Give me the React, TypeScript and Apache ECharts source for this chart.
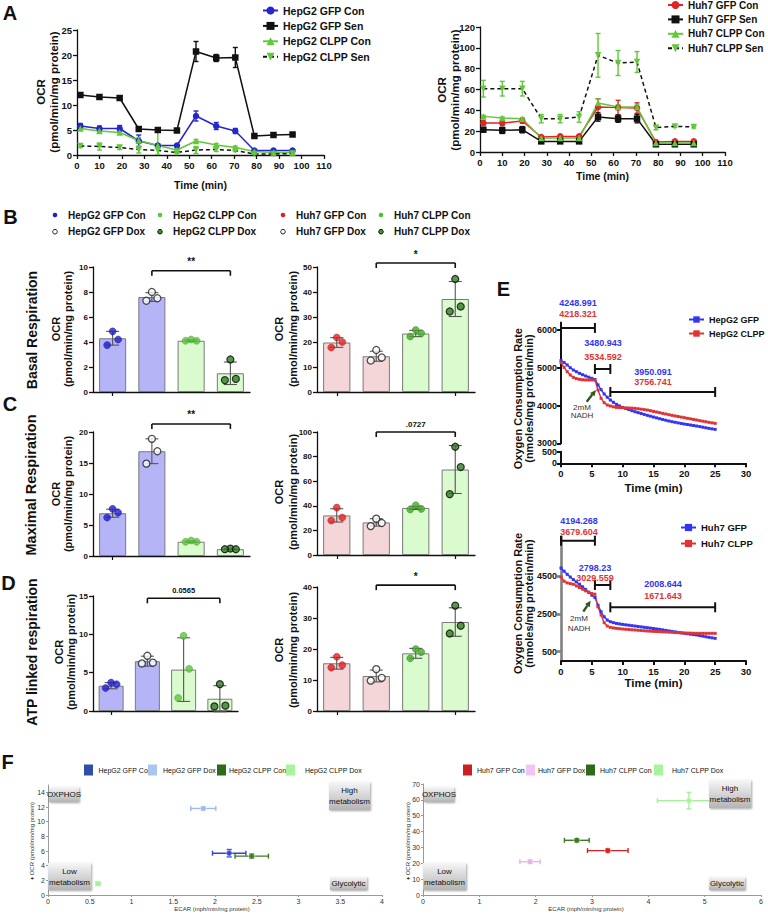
import React, { useEffect, useRef } from 'react';
import * as echarts from 'echarts';

const FONT = '"Liberation Sans", Arial, Helvetica, sans-serif';

// ---------------- Panel A (Seahorse time courses) ----------------
const A_TIME = [1.5, 10, 19, 27.5, 36, 44.5, 53, 62, 70.5, 79, 87.5, 96];
const A_HEPG2_NAMES = ['HepG2 GFP Con', 'HepG2 GFP Sen', 'HepG2 CLPP Con', 'HepG2 CLPP Sen'];
const A_HEPG2_GFP_CON = [5.8, 5.3, 5.3, 2.8, 1.9, 1.9, 7.8, 5.8, 4.8, 0.9, 0.9, 0.9];
const A_HEPG2_GFP_CON_ERR = [0.5, 0.5, 0.6, 1.2, 0.3, 0.2, 1.0, 0.7, 0.5, 0.2, 0.2, 0.2];
const A_HEPG2_GFP_SEN = [12.0, 11.6, 11.4, 5.2, 5.0, 4.9, 20.7, 19.4, 19.5, 3.8, 4.0, 4.1];
const A_HEPG2_GFP_SEN_ERR = [0.3, 0.3, 0.3, 0.2, 0.2, 0.2, 2.0, 0.7, 2.0, 0.2, 0.2, 0.2];
const A_HEPG2_CLPP_CON = [5.3, 4.8, 4.5, 2.9, 1.9, 1.0, 2.8, 2.0, 1.5, 0.7, 0.5, 0.5];
const A_HEPG2_CLPP_CON_ERR = [0.3, 0.3, 0.3, 0.6, 2.9, 0.3, 0.3, 0.3, 0.3, 0.2, 0.2, 0.2];
const A_HEPG2_CLPP_SEN = [1.8, 1.7, 1.5, 1.1, 0.9, 0.5, 1.0, 1.1, 0.9, 0.2, 0.2, 0.3];
const A_HEPG2_CLPP_SEN_ERR = [0.3, 0.7, 0.4, 0.7, 0.8, 0.2, 0.7, 0.4, 0.2, 0.2, 0.2, 0.2];

const A_HUH7_NAMES = ['Huh7 GFP Con', 'Huh7 GFP Sen', 'Huh7 CLPP Con', 'Huh7 CLPP Sen'];
const A_HUH7_GFP_CON = [27.8, 27.8, 29.8, 14.4, 15.0, 15.0, 43.2, 42.6, 42.2, 9.6, 10.2, 10.2];
const A_HUH7_GFP_CON_ERR = [2, 2, 2, 1, 1, 1, 8, 7, 5, 1, 1, 1];
const A_HUH7_GFP_SEN = [21.4, 20.8, 21.4, 10.2, 10.2, 10.2, 33.6, 32.0, 32.0, 7.4, 7.4, 7.4];
const A_HUH7_GFP_SEN_ERR = [2, 3, 3, 1.5, 1.5, 1.5, 4, 3.5, 4, 1, 1, 1];
const A_HUH7_CLPP_CON = [34.2, 32.6, 32.0, 13.4, 13.4, 13.4, 47.0, 43.2, 43.2, 8.6, 8.6, 8.6];
const A_HUH7_CLPP_CON_ERR = [1, 1, 1, 1, 1, 1, 4, 2, 2, 1, 1, 1];
const A_HUH7_CLPP_SEN = [60.8, 60.8, 60.8, 32.0, 32.0, 33.6, 92.8, 85.4, 86.4, 23.4, 24.6, 24.0];
const A_HUH7_CLPP_SEN_ERR = [8, 7, 7, 4, 4, 5, 21, 12, 10, 2, 1, 1];

// ---------------- Panels B-D (bar + dot plots) ----------------
const HEPG2_CATS = ['HepG2 GFP Con', 'HepG2 GFP Dox', 'HepG2 CLPP Con', 'HepG2 CLPP Dox'];
const HUH7_CATS = ['Huh7 GFP Con', 'Huh7 GFP Dox', 'Huh7 CLPP Con', 'Huh7 CLPP Dox'];

const BASAL_HEPG2_MEAN = [4.3, 7.6, 4.1, 1.5];
const BASAL_HEPG2_SD = [0.55, 0.35, 0.06, 0.9];
const BASAL_HEPG2_DOTS = [[4.85, 4.2, 3.75], [8.0, 7.5, 7.3], [4.2, 4.1, 4.1], [2.6, 1.05, 0.95]];
const BASAL_HUH7_MEAN = [19.8, 14.3, 23.4, 37.2];
const BASAL_HUH7_SD = [1.95, 2.0, 1.25, 7.0];
const BASAL_HUH7_DOTS = [[21.8, 20.0, 17.8], [16.8, 13.8, 12.6], [24.8, 23.5, 22.2], [45.2, 34.2, 32.2]];

const MAX_HEPG2_MEAN = [6.9, 16.9, 2.3, 1.1];
const MAX_HEPG2_SD = [0.65, 2.0, 0.12, 0.06];
const MAX_HEPG2_DOTS = [[7.6, 7.0, 6.2], [18.9, 16.9, 14.9], [2.5, 2.3, 2.3], [1.2, 1.1, 1.1]];
const MAX_HUH7_MEAN = [32.2, 26.5, 38.3, 69.5];
const MAX_HUH7_SD = [5.4, 3.0, 1.3, 19.5];
const MAX_HUH7_DOTS = [[38.5, 30.5, 28.0], [29.5, 26.0, 23.5], [40.5, 37.5, 37.0], [88.0, 71.5, 49.5]];

const ATP_HEPG2_MEAN = [3.3, 6.5, 5.4, 1.6];
const ATP_HEPG2_SD = [0.4, 0.65, 4.15, 1.7];
const ATP_HEPG2_DOTS = [[3.7, 3.5, 3.0], [7.2, 6.3, 6.2], [9.8, 5.5, 1.7], [3.5, 0.7, 0.6]];
const ATP_HUH7_MEAN = [15.4, 11.3, 18.6, 28.7];
const ATP_HUH7_SD = [1.9, 1.9, 1.6, 4.6];
const ATP_HUH7_DOTS = [[17.5, 14.8, 14.0], [13.5, 10.7, 9.8], [20.0, 19.0, 17.0], [34.0, 27.5, 25.0]];

const SIG_TEXTS = ['**', '*', '**', '.0727', '0.0565', '*'];
const SIG_LEVELS = [9.7, 51.6, 21.3, 100, 14.7, 40.6];

// ---------------- Panel E (NADH oxygen consumption) ----------------
const E_T = [0, 0.5, 1, 1.5, 2, 2.5, 3, 3.5, 4, 4.5, 5, 5.5, 6, 6.5, 7, 7.5, 8, 8.5, 9, 9.5, 10, 10.5, 11, 11.5, 12, 12.5, 13, 13.5, 14, 14.5, 15, 15.5, 16, 16.5, 17, 17.5, 18, 18.5, 19, 19.5, 20, 20.5, 21, 21.5, 22, 22.5, 23, 23.5, 24, 24.5, 25];
const E_HEPG2_GFP = [5190, 5140, 5075, 5000, 4940, 4895, 4852, 4815, 4781, 4750, 4720, 4690, 4545, 4420, 4305, 4220, 4146, 4085, 4030, 3988, 3950, 3920, 3893, 3864, 3836, 3812, 3788, 3764, 3740, 3718, 3695, 3673, 3651, 3630, 3610, 3590, 3572, 3556, 3540, 3525, 3510, 3497, 3484, 3470, 3457, 3442, 3426, 3410, 3395, 3382, 3369];
const E_HEPG2_CLPP = [5135, 5011, 4896, 4808, 4746, 4712, 4693, 4682, 4675, 4675, 4675, 4672, 4410, 4190, 4075, 4013, 3987, 3965, 3950, 3945, 3942, 3938, 3934, 3930, 3925, 3915, 3903, 3892, 3880, 3863, 3845, 3828, 3810, 3792, 3775, 3757, 3740, 3724, 3709, 3693, 3678, 3662, 3647, 3631, 3616, 3600, 3585, 3570, 3554, 3541, 3528];
const E_HUH7_GFP = [4940, 4770, 4605, 4460, 4324, 4200, 4078, 3940, 3796, 3650, 3497, 3374, 2969, 2617, 2353, 2177, 2089, 2040, 2000, 1972, 1948, 1925, 1903, 1882, 1860, 1838, 1816, 1794, 1772, 1750, 1728, 1706, 1684, 1657, 1630, 1604, 1578, 1552, 1525, 1499, 1473, 1451, 1429, 1407, 1385, 1354, 1323, 1292, 1262, 1235, 1209];
const E_HUH7_CLPP = [4465, 4236, 4148, 4110, 4078, 3990, 3902, 3814, 3726, 3655, 3585, 3550, 2881, 2441, 2036, 1860, 1790, 1760, 1737, 1720, 1702, 1689, 1676, 1662, 1649, 1636, 1622, 1609, 1596, 1587, 1578, 1570, 1561, 1552, 1543, 1535, 1526, 1517, 1508, 1499, 1490, 1486, 1482, 1477, 1473, 1473, 1473, 1473, 1473, 1473, 1473];
const E_SPANS = [[0, 5.5], [5.5, 8], [8, 25]];
const E_TOP_BRACKET_Y = [6053, 4967, 4358];
const E_BOT_BRACKET_Y = [6387, 4037, 2854];
const E_TOP_GFP_LABELS = ['4248.991', '3480.943', '3950.091'];
const E_TOP_CLPP_LABELS = ['4218.321', '3534.592', '3756.741'];
const E_BOT_GFP_LABELS = ['4194.268', '2798.23', '2008.644'];
const E_BOT_CLPP_LABELS = ['3679.604', '3029.559', '1671.643'];

// ---------------- Panel F (energy maps) ----------------
const F_HEPG2_NAMES = ['HepG2 GFP Con', 'HepG2 GFP Dox', 'HepG2 CLPP Con', 'HepG2 CLPP Dox'];
const F_HEPG2_ECAR = [2.17, 1.86, 2.44, 0.6];
const F_HEPG2_OCR = [5.7, 11.8, 5.3, 1.55];
const F_HEPG2_ECAR_ERR = [0.2, 0.15, 0.2, 0.03];
const F_HEPG2_OCR_ERR = [0.5, 0.2, 0.3, 0.15];
const F_HUH7_NAMES = ['Huh7 GFP Con', 'Huh7 GFP Dox', 'Huh7 CLPP Con', 'Huh7 CLPP Dox'];
const F_HUH7_ECAR = [3.28, 1.9, 2.73, 4.72];
const F_HUH7_OCR = [28, 21, 34.5, 59.5];
const F_HUH7_ECAR_ERR = [0.36, 0.18, 0.22, 0.56];
const F_HUH7_OCR_ERR = [1, 1, 1, 5.2];

// ---------------- styling ----------------
const BLUE = '#2626d0';
const GREEN = '#62c83a';
const RED = '#e02424';
const BLACK = '#111111';
const JITTER = [0, 5.5, -5.5];

const HEPG2_BAR_COLORS = ['#b4b4f7', '#b4b4f7', '#d9fbcd', '#d9fbcd'];
const HUH7_BAR_COLORS = ['#f4d6d8', '#f4d6d8', '#d9fbcd', '#d9fbcd'];
const DOT_OPEN = { color: '#ffffff', borderColor: '#222', borderWidth: 1.3 };
const DOT_DARKGREEN = { color: '#2f7d20', borderColor: '#0b0b0b', borderWidth: 1.2 };
const HEPG2_DOT_STYLES = [{ color: '#1f1fcf', borderColor: '#12127a', borderWidth: 0.5 }, DOT_OPEN, { color: '#5cc63c', borderColor: '#3b8a24', borderWidth: 0.5 }, DOT_DARKGREEN];
const HUH7_DOT_STYLES = [{ color: '#e0201f', borderColor: '#9a1010', borderWidth: 0.5 }, DOT_OPEN, { color: '#45a82b', borderColor: '#2c7a18', borderWidth: 0.5 }, DOT_DARKGREEN];

const F_HEPG2_COLORS = ['#3443d6', '#9dbaf0', '#3b7a22', '#a4f096'];
const F_HUH7_COLORS = ['#d42222', '#e9b3e4', '#3b7a22', '#a4f096'];
const F_HEPG2_LEGEND = ['#2f4ea8', '#a9c6f2', '#2e6a17', '#a6f59c'];
const F_HUH7_LEGEND = ['#cc1f1f', '#f2c4f4', '#2e6a17', '#a6f59c'];

type Any = any;

function vAxis(p: Any): Any {
  const color = p.lineColor ?? BLACK;
  const lw = p.lineWidth ?? 1.3;
  const label: Any = {
    show: true,
    fontSize: p.fontSize ?? 9,
    fontWeight: p.bold === false ? 'normal' : 'bold',
    color: p.labelColor ?? BLACK,
    fontFamily: FONT,
    margin: p.margin ?? 5,
    customValues: p.custom,
  };
  if (p.plain) label.formatter = (v: number) => String(v);
  return {
    type: 'value',
    gridIndex: p.grid,
    min: p.min,
    max: p.max,
    interval: p.interval,
    show: p.show ?? true,
    axisLine: { show: true, onZero: false, lineStyle: { color, width: lw } },
    axisTick: { show: true, length: p.tickLen ?? 4, lineStyle: { color, width: lw }, customValues: p.custom },
    axisLabel: label,
    splitLine: { show: false },
    name: p.name,
    nameLocation: 'middle',
    nameGap: p.nameGap,
    nameTextStyle: { fontSize: p.nameSize ?? 11, fontWeight: 'bold', color: BLACK, fontFamily: FONT, verticalAlign: 'top' },
  };
}

function cAxis(grid: number, data: string[]): Any {
  return {
    type: 'category',
    gridIndex: grid,
    data,
    axisLine: { show: true, lineStyle: { color: BLACK, width: 1.3 } },
    axisTick: { show: true, alignWithLabel: true, length: 4, lineStyle: { color: BLACK, width: 1.2 } },
    axisLabel: { show: false },
    splitLine: { show: false },
  };
}

const vRangeRender = (color: string, cap: number, lw: number) => (params: Any, api: Any) => {
  const x = api.value(0);
  const a = api.coord([x, api.value(1)]);
  const b = api.coord([x, api.value(2)]);
  const st = { stroke: color, lineWidth: lw };
  return {
    type: 'group',
    children: [
      { type: 'line', shape: { x1: a[0], y1: a[1], x2: b[0], y2: b[1] }, style: st },
      { type: 'line', shape: { x1: a[0] - cap / 2, y1: a[1], x2: a[0] + cap / 2, y2: a[1] }, style: st },
      { type: 'line', shape: { x1: b[0] - cap / 2, y1: b[1], x2: b[0] + cap / 2, y2: b[1] }, style: st },
    ],
  };
};

const bracketRender = (texts: string[] | null, capUp: number, capDown: number, lw: number, fontSize: number) => (params: Any, api: Any) => {
  const y = api.value(2);
  const p1 = api.coord([api.value(0), y]);
  const p2 = api.coord([api.value(1), y]);
  const st = { stroke: BLACK, lineWidth: lw };
  const children: Any[] = [
    { type: 'line', shape: { x1: p1[0], y1: p1[1], x2: p2[0], y2: p2[1] }, style: st },
    { type: 'line', shape: { x1: p1[0], y1: p1[1] - capUp, x2: p1[0], y2: p1[1] + capDown }, style: st },
    { type: 'line', shape: { x1: p2[0], y1: p2[1] - capUp, x2: p2[0], y2: p2[1] + capDown }, style: st },
  ];
  const t = texts ? texts[params.dataIndex] : null;
  if (t) {
    children.push({
      type: 'text',
      x: (p1[0] + p2[0]) / 2,
      y: p1[1] - 4,
      style: {
        text: t, fill: BLACK, fontSize, fontWeight: 'bold', fontFamily: FONT,
        align: 'center', verticalAlign: 'bottom', textAlign: 'center', textVerticalAlign: 'bottom',
      },
    });
  }
  return { type: 'group', children };
};

const xyErrRender = (colors: string[], cap: number, lw: number) => (params: Any, api: Any) => {
  const x = api.value(0);
  const y = api.value(1);
  const xe = api.value(2);
  const ye = api.value(3);
  const st = { stroke: colors[params.dataIndex], lineWidth: lw };
  const l = api.coord([x - xe, y]);
  const r = api.coord([x + xe, y]);
  const t = api.coord([x, y + ye]);
  const b = api.coord([x, y - ye]);
  return {
    type: 'group',
    children: [
      { type: 'line', shape: { x1: l[0], y1: l[1], x2: r[0], y2: r[1] }, style: st },
      { type: 'line', shape: { x1: l[0], y1: l[1] - cap / 2, x2: l[0], y2: l[1] + cap / 2 }, style: st },
      { type: 'line', shape: { x1: r[0], y1: r[1] - cap / 2, x2: r[0], y2: r[1] + cap / 2 }, style: st },
      { type: 'line', shape: { x1: t[0], y1: t[1], x2: b[0], y2: b[1] }, style: st },
      { type: 'line', shape: { x1: t[0] - cap / 2, y1: t[1], x2: t[0] + cap / 2, y2: t[1] }, style: st },
      { type: 'line', shape: { x1: b[0] - cap / 2, y1: b[1], x2: b[0] + cap / 2, y2: b[1] }, style: st },
    ],
  };
};

function aSeries(name: string, gi: number, vals: number[], errs: number[], color: string, lineColor: string, symbol: string, rotate: number, dashed: boolean): Any[] {
  return [
    {
      type: 'line', name, xAxisIndex: gi, yAxisIndex: gi,
      data: A_TIME.map((t, i) => [t, vals[i]]),
      symbol, symbolSize: 6.5, symbolRotate: rotate, showSymbol: true, showAllSymbol: true,
      itemStyle: { color },
      lineStyle: { color: lineColor, width: 1.5, type: dashed ? [4, 3] : 'solid' },
      z: 4, silent: true,
    },
    {
      type: 'custom', name: name + ' SEM', xAxisIndex: gi, yAxisIndex: gi, clip: true,
      data: A_TIME.map((t, i) => [t, vals[i] - errs[i], vals[i] + errs[i]]),
      encode: { x: 0, y: [1, 2] },
      renderItem: vRangeRender(color, 5, 1.4),
      z: 3, silent: true,
    },
  ];
}

function barPanel(gi: number, name: string, mean: number[], sd: number[], dots: number[][], barColors: string[], dotStyles: Any[], sigIdx: number, sigFont: number): Any[] {
  return [
    {
      type: 'bar', name: name + ' mean', xAxisIndex: gi, yAxisIndex: gi, barWidth: '69%', silent: true, z: 2,
      data: mean.map((v, i) => ({ value: v, itemStyle: { color: barColors[i], borderColor: '#7a7a7a', borderWidth: 1 } })),
    },
    {
      type: 'custom', name: name + ' SD', xAxisIndex: gi, yAxisIndex: gi, silent: true, z: 3,
      data: mean.map((v, i) => [i, v - sd[i], v + sd[i]]),
      encode: { x: 0, y: [1, 2] },
      renderItem: vRangeRender('#555555', 13, 1.1),
    },
    {
      type: 'scatter', name: name + ' replicates', xAxisIndex: gi, yAxisIndex: gi, symbolSize: 7, silent: true, z: 4,
      data: dots.flatMap((arr, ci) => arr.map((v, j) => ({ value: [ci, v], symbolOffset: [JITTER[j], 0], itemStyle: dotStyles[ci] }))),
    },
    {
      type: 'custom', name: name + ' significance', xAxisIndex: gi, yAxisIndex: gi, silent: true, z: 5, clip: false,
      data: [[1, 3, SIG_LEVELS[sigIdx]]],
      encode: { x: [0, 1], y: 2 },
      renderItem: bracketRender([SIG_TEXTS[sigIdx]], 0, 5, 1.6, sigFont),
    },
  ];
}

function eSeries(name: string, gi: number, vals: number[], color: string): Any {
  return {
    type: 'line', name, xAxisIndex: gi, yAxisIndex: gi,
    data: E_T.map((t, i) => [t, vals[i]]),
    symbol: 'rect', symbolSize: 3, showSymbol: true, showAllSymbol: true,
    itemStyle: { color }, lineStyle: { color, width: 1.4 }, z: 3, silent: true,
  };
}

function T(text: string, x: number, y: number, o: Any = {}): Any {
  const align = o.align ?? 'center';
  const va = o.va ?? 'middle';
  return {
    type: 'text', x, y, z: o.z ?? 100, rotation: o.rot ?? 0, silent: true,
    style: {
      text, fill: o.color ?? BLACK, fontSize: o.size ?? 10, fontWeight: o.weight ?? 'bold', fontFamily: FONT,
      align, verticalAlign: va, textAlign: align, textVerticalAlign: va, lineHeight: o.lh,
    },
  };
}

function quadBox(x: number, y: number, w: number, h: number, text: string): Any[] {
  return [
    {
      type: 'rect', z: 100, silent: true, shape: { x, y, width: w, height: h },
      style: {
        fill: new echarts.graphic.LinearGradient(0, 0, 0, 1, [
          { offset: 0, color: '#f6f6f6' },
          { offset: 1, color: '#b4b4b4' },
        ]),
        shadowBlur: 2, shadowColor: 'rgba(0,0,0,0.35)', shadowOffsetX: 1, shadowOffsetY: 1,
      },
    },
    T(text, x + w / 2, y + h / 2, { size: 8, weight: 'normal', lh: 11, z: 101 }),
  ];
}

function arrow(x1: number, y1: number, x2: number, y2: number): Any[] {
  const dx = x2 - x1;
  const dy = y2 - y1;
  const len = Math.sqrt(dx * dx + dy * dy);
  const ux = dx / len;
  const uy = dy / len;
  const bx = x2 - ux * 6;
  const by = y2 - uy * 6;
  const px = -uy * 2.8;
  const py = ux * 2.8;
  const col = '#2d5a1b';
  return [
    { type: 'line', z: 100, silent: true, shape: { x1, y1, x2: bx, y2: by }, style: { stroke: col, lineWidth: 2.4 } },
    { type: 'polygon', z: 100, silent: true, shape: { points: [[x2, y2], [bx + px, by + py], [bx - px, by - py]] }, style: { fill: col } },
  ];
}

function buildOption(): Any {
  const grids = [
    { left: 77, top: 30, width: 247, height: 125 },
    { left: 480, top: 27, width: 245, height: 125 },
    { left: 93, top: 267, width: 157, height: 125 },
    { left: 317, top: 267, width: 158, height: 125 },
    { left: 93, top: 432, width: 157, height: 124 },
    { left: 317, top: 432, width: 158, height: 123 },
    { left: 93, top: 596, width: 145, height: 115 },
    { left: 317, top: 587, width: 158, height: 124 },
    { left: 561, top: 322.4, width: 185, height: 120.9 },
    { left: 561, top: 451.7, width: 185, height: 11.6 },
    { left: 561, top: 536.7, width: 185, height: 124.4 },
    { left: 48, top: 785, width: 334, height: 110 },
    { left: 423, top: 784, width: 338, height: 111 },
  ];

  const xAxis = [
    vAxis({ grid: 0, min: 0, max: 110, interval: 10, fontSize: 9.5, name: 'Time (min)', nameGap: 24, nameSize: 10.5 }),
    vAxis({ grid: 1, min: 0, max: 110, interval: 10, fontSize: 9.5, name: 'Time (min)', nameGap: 18, nameSize: 10.5 }),
    cAxis(2, HEPG2_CATS),
    cAxis(3, HUH7_CATS),
    cAxis(4, HEPG2_CATS),
    cAxis(5, HUH7_CATS),
    cAxis(6, HEPG2_CATS),
    cAxis(7, HUH7_CATS),
    { type: 'value', gridIndex: 8, min: 0, max: 30, show: false },
    vAxis({ grid: 9, min: 0, max: 30, interval: 5, fontSize: 9.5, lineWidth: 2, name: 'Time (min)', nameGap: 19, nameSize: 11.5 }),
    vAxis({ grid: 10, min: 0, max: 30, interval: 5, fontSize: 9.5, lineWidth: 2, name: 'Time (min)', nameGap: 16, nameSize: 11.5 }),
    vAxis({ grid: 11, min: 0, max: 4, interval: 0.5, fontSize: 7, bold: false, lineColor: '#9a9a9a', lineWidth: 1, labelColor: '#333', tickLen: 2, margin: 3 }),
    vAxis({ grid: 12, min: 0, max: 6, interval: 1, fontSize: 7, bold: false, lineColor: '#9a9a9a', lineWidth: 1, labelColor: '#333', tickLen: 2, margin: 3 }),
  ];

  const yAxis = [
    vAxis({ grid: 0, min: 0, max: 25, interval: 5, fontSize: 9.5 }),
    vAxis({ grid: 1, min: 0, max: 120, interval: 20, fontSize: 9.5 }),
    vAxis({ grid: 2, min: 0, max: 10, interval: 2, fontSize: 8 }),
    vAxis({ grid: 3, min: 0, max: 50, interval: 10, fontSize: 8 }),
    vAxis({ grid: 4, min: 0, max: 20, interval: 5, fontSize: 8 }),
    vAxis({ grid: 5, min: 0, max: 100, interval: 20, fontSize: 8 }),
    vAxis({ grid: 6, min: 0, max: 15, interval: 5, fontSize: 8 }),
    vAxis({ grid: 7, min: 0, max: 40, interval: 10, fontSize: 8 }),
    vAxis({ grid: 8, min: 3000, max: 6200, custom: [3000, 4000, 5000, 6000], fontSize: 9, lineWidth: 2, margin: 4, plain: true }),
    vAxis({ grid: 9, min: 0, max: 500, interval: 500, fontSize: 9, lineWidth: 2, margin: 4, plain: true }),
    vAxis({ grid: 10, min: 0, max: 6600, custom: [500, 2500, 4500], fontSize: 9, lineWidth: 2.6, lineColor: '#808080', margin: 4, plain: true }),
    vAxis({ grid: 11, min: 0, max: 15, custom: [0, 2, 4, 6, 8, 10, 12, 14], fontSize: 7, bold: false, lineColor: '#9a9a9a', lineWidth: 1, labelColor: '#333', tickLen: 2, margin: 3 }),
    vAxis({ grid: 12, min: 0, max: 70, interval: 10, fontSize: 7, bold: false, lineColor: '#9a9a9a', lineWidth: 1, labelColor: '#333', tickLen: 2, margin: 3 }),
  ];

  const series: Any[] = [
    ...aSeries(A_HEPG2_NAMES[0], 0, A_HEPG2_GFP_CON, A_HEPG2_GFP_CON_ERR, BLUE, BLUE, 'circle', 0, false),
    ...aSeries(A_HEPG2_NAMES[1], 0, A_HEPG2_GFP_SEN, A_HEPG2_GFP_SEN_ERR, BLACK, BLACK, 'rect', 0, false),
    ...aSeries(A_HEPG2_NAMES[2], 0, A_HEPG2_CLPP_CON, A_HEPG2_CLPP_CON_ERR, GREEN, GREEN, 'triangle', 0, false),
    ...aSeries(A_HEPG2_NAMES[3], 0, A_HEPG2_CLPP_SEN, A_HEPG2_CLPP_SEN_ERR, GREEN, BLACK, 'triangle', 180, true),
    ...aSeries(A_HUH7_NAMES[0], 1, A_HUH7_GFP_CON, A_HUH7_GFP_CON_ERR, RED, RED, 'circle', 0, false),
    ...aSeries(A_HUH7_NAMES[1], 1, A_HUH7_GFP_SEN, A_HUH7_GFP_SEN_ERR, BLACK, BLACK, 'rect', 0, false),
    ...aSeries(A_HUH7_NAMES[2], 1, A_HUH7_CLPP_CON, A_HUH7_CLPP_CON_ERR, GREEN, GREEN, 'triangle', 0, false),
    ...aSeries(A_HUH7_NAMES[3], 1, A_HUH7_CLPP_SEN, A_HUH7_CLPP_SEN_ERR, GREEN, BLACK, 'triangle', 180, true),

    ...barPanel(2, 'Basal HepG2', BASAL_HEPG2_MEAN, BASAL_HEPG2_SD, BASAL_HEPG2_DOTS, HEPG2_BAR_COLORS, HEPG2_DOT_STYLES, 0, 10),
    ...barPanel(3, 'Basal Huh7', BASAL_HUH7_MEAN, BASAL_HUH7_SD, BASAL_HUH7_DOTS, HUH7_BAR_COLORS, HUH7_DOT_STYLES, 1, 10),
    ...barPanel(4, 'Maximal HepG2', MAX_HEPG2_MEAN, MAX_HEPG2_SD, MAX_HEPG2_DOTS, HEPG2_BAR_COLORS, HEPG2_DOT_STYLES, 2, 10),
    ...barPanel(5, 'Maximal Huh7', MAX_HUH7_MEAN, MAX_HUH7_SD, MAX_HUH7_DOTS, HUH7_BAR_COLORS, HUH7_DOT_STYLES, 3, 8),
    ...barPanel(6, 'ATP HepG2', ATP_HEPG2_MEAN, ATP_HEPG2_SD, ATP_HEPG2_DOTS, HEPG2_BAR_COLORS, HEPG2_DOT_STYLES, 4, 7.5),
    ...barPanel(7, 'ATP Huh7', ATP_HUH7_MEAN, ATP_HUH7_SD, ATP_HUH7_DOTS, HUH7_BAR_COLORS, HUH7_DOT_STYLES, 5, 10),

    eSeries('HepG2 GFP', 8, E_HEPG2_GFP, '#3434f2'),
    eSeries('HepG2 CLPP', 8, E_HEPG2_CLPP, '#e03434'),
    {
      type: 'custom', name: 'E top intervals', xAxisIndex: 8, yAxisIndex: 8, silent: true, z: 5, clip: false,
      data: E_SPANS.map((s, i) => [s[0], s[1], E_TOP_BRACKET_Y[i]]),
      encode: { x: [0, 1], y: 2 },
      renderItem: bracketRender(null, 5, 5, 2, 9),
    },
    eSeries('Huh7 GFP', 10, E_HUH7_GFP, '#3434f2'),
    eSeries('Huh7 CLPP', 10, E_HUH7_CLPP, '#e03434'),
    {
      type: 'custom', name: 'E bottom intervals', xAxisIndex: 10, yAxisIndex: 10, silent: true, z: 5, clip: false,
      data: E_SPANS.map((s, i) => [s[0], s[1], E_BOT_BRACKET_Y[i]]),
      encode: { x: [0, 1], y: 2 },
      renderItem: bracketRender(null, 5, 5, 2, 9),
    },

    {
      type: 'custom', name: 'F HepG2 errors', xAxisIndex: 11, yAxisIndex: 11, silent: true, z: 3,
      data: F_HEPG2_ECAR.map((x, i) => [x, F_HEPG2_OCR[i], F_HEPG2_ECAR_ERR[i], F_HEPG2_OCR_ERR[i]]),
      encode: { x: 0, y: 1 },
      renderItem: xyErrRender(F_HEPG2_COLORS, 5, 1.4),
    },
    {
      type: 'scatter', name: 'F HepG2 points', xAxisIndex: 11, yAxisIndex: 11, symbolSize: 6, silent: true, z: 4,
      data: F_HEPG2_ECAR.map((x, i) => ({ value: [x, F_HEPG2_OCR[i]], name: F_HEPG2_NAMES[i], itemStyle: { color: F_HEPG2_COLORS[i], borderColor: '#ffffff', borderWidth: 0.6 } })),
    },
    {
      type: 'custom', name: 'F Huh7 errors', xAxisIndex: 12, yAxisIndex: 12, silent: true, z: 3,
      data: F_HUH7_ECAR.map((x, i) => [x, F_HUH7_OCR[i], F_HUH7_ECAR_ERR[i], F_HUH7_OCR_ERR[i]]),
      encode: { x: 0, y: 1 },
      renderItem: xyErrRender(F_HUH7_COLORS, 5, 1.4),
    },
    {
      type: 'scatter', name: 'F Huh7 points', xAxisIndex: 12, yAxisIndex: 12, symbolSize: 6, silent: true, z: 4,
      data: F_HUH7_ECAR.map((x, i) => ({ value: [x, F_HUH7_OCR[i]], name: F_HUH7_NAMES[i], itemStyle: { color: F_HUH7_COLORS[i], borderColor: '#ffffff', borderWidth: 0.6 } })),
    },
  ];

  const legendText = { fontWeight: 'bold', fontSize: 10.5, fontFamily: FONT, color: BLACK };
  const legendTextSmall = { fontWeight: 'bold', fontSize: 9, fontFamily: FONT, color: BLACK };
  const legend = [
    { data: A_HEPG2_NAMES, left: 262, top: 5, orient: 'vertical', itemWidth: 15, itemHeight: 10, itemGap: 4.4, padding: 0, selectedMode: false, textStyle: legendText },
    { data: A_HUH7_NAMES, left: 667, top: 0, orient: 'vertical', itemWidth: 15, itemHeight: 10, itemGap: 4.4, padding: 0, selectedMode: false, textStyle: { ...legendText, fontSize: 10 } },
    { data: ['HepG2 GFP', 'HepG2 CLPP'], left: 688, top: 315, orient: 'vertical', itemWidth: 15, itemHeight: 8, itemGap: 5, padding: 0, selectedMode: false, textStyle: legendTextSmall },
    { data: ['Huh7 GFP', 'Huh7 CLPP'], left: 680, top: 522.5, orient: 'vertical', itemWidth: 15, itemHeight: 9, itemGap: 6, padding: 0, selectedMode: false, textStyle: { ...legendTextSmall, fontSize: 9.5 } },
  ];

  const g: Any[] = [];
  // panel letters
  g.push(T('A', 10, 13, { size: 20 }));
  g.push(T('B', 10.5, 216.5, { size: 20 }));
  g.push(T('C', 10, 404, { size: 20 }));
  g.push(T('D', 8.5, 582.5, { size: 20 }));
  g.push(T('E', 503.5, 288.5, { size: 20 }));
  g.push(T('F', 7.5, 761.5, { size: 20 }));

  // A y titles
  g.push(T('OCR\n(pmol/min/mg protein)', 47.5, 92, { size: 11.5, rot: Math.PI / 2, lh: 13 }));
  g.push(T('OCR\n(pmol/min/mg protein)', 448, 90, { size: 11.5, rot: Math.PI / 2, lh: 13 }));

  // B legend
  const bLegX = [55, 160, 283, 381];
  const bRow1 = ['HepG2 GFP Con', 'HepG2 CLPP Con', 'Huh7 GFP Con', 'Huh7 CLPP Con'];
  const bRow2 = ['HepG2 GFP Dox', 'HepG2 CLPP Dox', 'Huh7 GFP Dox', 'Huh7 CLPP Dox'];
  const bRow1Colors = ['#1f1fcf', '#5cc63c', '#e0201f', '#4fbf35'];
  for (let i = 0; i < 4; i++) {
    g.push({ type: 'circle', z: 100, silent: true, shape: { cx: bLegX[i], cy: 215, r: 2.3 }, style: { fill: bRow1Colors[i] } });
    g.push(T(bRow1[i], bLegX[i] + 13, 215, { size: 10, align: 'left' }));
    const open = i % 2 === 0;
    g.push({ type: 'circle', z: 100, silent: true, shape: { cx: bLegX[i], cy: 231.7, r: 2.3 }, style: open ? { fill: '#fff', stroke: '#222', lineWidth: 1 } : { fill: '#3f9a25', stroke: '#111', lineWidth: 1 } });
    g.push(T(bRow2[i], bLegX[i] + 13, 231.7, { size: 10, align: 'left' }));
  }

  // B-D row titles and y titles
  g.push(T('Basal Respiration', 32, 330, { size: 14, rot: Math.PI / 2 }));
  g.push(T('Maximal Respiration', 31, 485, { size: 14.5, rot: Math.PI / 2 }));
  g.push(T('ATP linked respiration', 32, 652, { size: 14, rot: Math.PI / 2 }));
  const ocr = 'OCR\n(pmol/min/mg protein)';
  g.push(T(ocr, 62, 329, { size: 11, rot: Math.PI / 2, lh: 11.5 }));
  g.push(T(ocr, 286, 329, { size: 11, rot: Math.PI / 2, lh: 13.5 }));
  g.push(T(ocr, 62, 494, { size: 11, rot: Math.PI / 2, lh: 11.5 }));
  g.push(T(ocr, 286, 492, { size: 11, rot: Math.PI / 2, lh: 13.5 }));
  g.push(T(ocr, 65, 652, { size: 11, rot: Math.PI / 2, lh: 11.5 }));
  g.push(T(ocr, 286, 650, { size: 11, rot: Math.PI / 2, lh: 13.5 }));

  // E titles and annotations
  const eTitle = 'Oxygen Consumption Rate\n(nmoles/mg protein/min)';
  g.push(T(eTitle, 523, 398.6, { size: 11, rot: Math.PI / 2, lh: 11 }));
  g.push(T(eTitle, 523, 603.5, { size: 11, rot: Math.PI / 2, lh: 11 }));
  const eTopX = [578, 603, 653];
  const eTopYB = [303, 343, 372.3];
  const eTopYR = [314.3, 357, 382.3];
  const eBotX = [579, 595, 663];
  const eBotYB = [520.7, 568.3, 584.3];
  const eBotYR = [531.7, 578.3, 595.7];
  for (let i = 0; i < 3; i++) {
    g.push(T(E_TOP_GFP_LABELS[i], eTopX[i], eTopYB[i], { size: 9, color: '#3434f2' }));
    g.push(T(E_TOP_CLPP_LABELS[i], eTopX[i], eTopYR[i], { size: 9, color: '#e03434' }));
    g.push(T(E_BOT_GFP_LABELS[i], eBotX[i], eBotYB[i], { size: 9, color: '#3434f2' }));
    g.push(T(E_BOT_CLPP_LABELS[i], eBotX[i], eBotYR[i], { size: 9, color: '#e03434' }));
  }
  g.push(...arrow(586.7, 401.7, 596, 389.9));
  g.push(T('2mM', 582, 407, { size: 8, weight: 'normal', color: '#333' }));
  g.push(T('NADH', 582, 415.7, { size: 8, weight: 'normal', color: '#333' }));
  g.push(...arrow(583.3, 611.7, 590.7, 600.7));
  g.push(T('2mM', 579, 618, { size: 8, weight: 'normal', color: '#333' }));
  g.push(T('NADH', 579, 628, { size: 8, weight: 'normal', color: '#333' }));

  // F legends
  const fLeftSq = [84, 148, 217, 286];
  const fLeftTx = [98.5, 163, 229, 305];
  const fRightSq = [463, 526, 586, 654];
  const fRightTx = [477, 538, 600, 672];
  for (let i = 0; i < 4; i++) {
    g.push({ type: 'rect', z: 100, silent: true, shape: { x: fLeftSq[i], y: 764.5, width: 9, height: 11 }, style: { fill: F_HEPG2_LEGEND[i] } });
    g.push(T(F_HEPG2_NAMES[i], fLeftTx[i], 770, { size: 7, weight: 'normal', align: 'left' }));
    g.push({ type: 'rect', z: 100, silent: true, shape: { x: fRightSq[i], y: 764.5, width: 9, height: 11 }, style: { fill: F_HUH7_LEGEND[i] } });
    g.push(T(F_HUH7_NAMES[i], fRightTx[i], 770, { size: 7, weight: 'normal', align: 'left' }));
  }
  // F quadrant labels
  g.push(...quadBox(49, 787, 30, 15, 'OXPHOS'));
  g.push(...quadBox(329, 782, 41, 28, 'High\nmetabolism'));
  g.push(...quadBox(48, 863, 43, 27, 'Low\nmetabolism'));
  g.push(...quadBox(330, 877, 37, 13, 'Glycolytic'));
  g.push(...quadBox(424, 787, 30, 15, 'OXPHOS'));
  g.push(...quadBox(709, 780, 42, 28, 'High\nmetabolism'));
  g.push(...quadBox(423, 863, 43, 27, 'Low\nmetabolism'));
  g.push(...quadBox(709, 877, 36, 13, 'Glycolytic'));
  // F axis titles
  g.push(T('♦ OCR (pmol/min/mg protein)', 32, 841, { size: 6, weight: 'normal', rot: Math.PI / 2, color: '#333' }));
  g.push(T('♦ OCR (pmol/min/mg protein)', 408, 841, { size: 6, weight: 'normal', rot: Math.PI / 2, color: '#333' }));
  g.push(T('ECAR (mph/min/mg protein)', 212, 909, { size: 6, weight: 'normal', color: '#333' }));
  g.push(T('ECAR (mph/min/mg protein)', 586, 909, { size: 6, weight: 'normal', color: '#333' }));

  return {
    animation: false,
    backgroundColor: '#ffffff',
    textStyle: { fontFamily: FONT },
    grid: grids,
    xAxis,
    yAxis,
    legend,
    series,
    graphic: { elements: g },
  };
}

export default function App() {
  const ref = useRef<HTMLDivElement>(null);
  useEffect(() => {
    if (!ref.current) return;
    const chart = echarts.init(ref.current, null, { renderer: 'svg' });
    chart.setOption(buildOption());
    return () => chart.dispose();
  }, []);
  return <div ref={ref} style={{ position: 'absolute', left: 0, top: 0, width: 768, height: 915, background: '#fff' }} />;
}
